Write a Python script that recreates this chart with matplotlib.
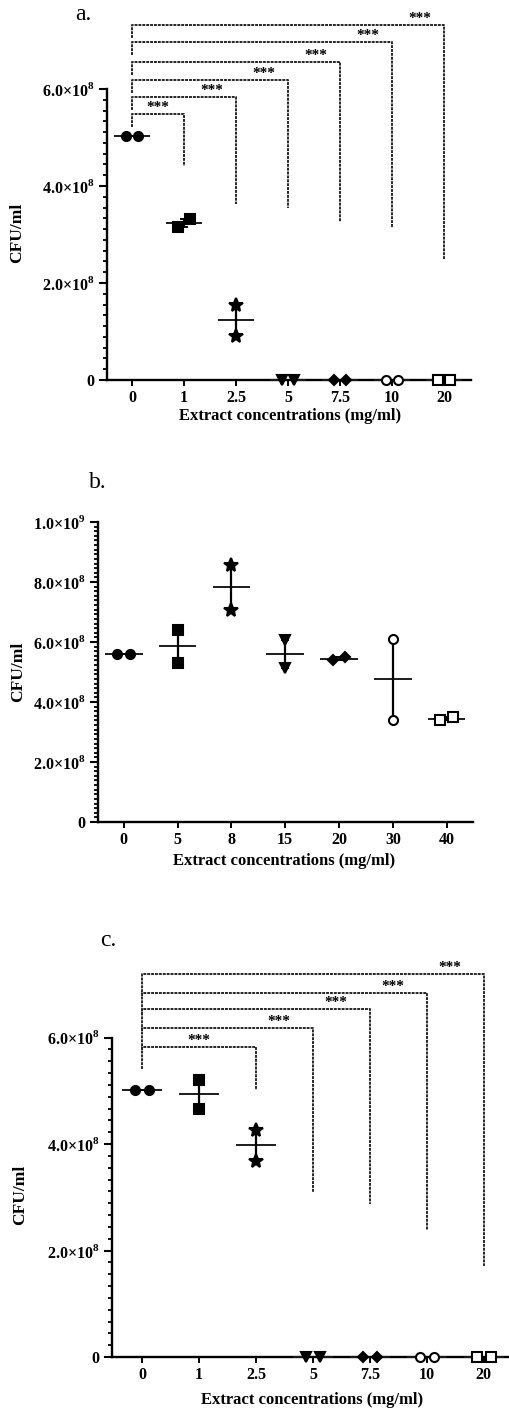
import numpy as np
import matplotlib
matplotlib.use("Agg")
import matplotlib.pyplot as plt
from matplotlib.ticker import FixedLocator, FixedFormatter

plt.rcParams['font.family'] = ['Liberation Serif', 'DejaVu Serif']
plt.rcParams['mathtext.fontset'] = 'custom'
plt.rcParams['mathtext.rm'] = 'Liberation Serif'
plt.rcParams['mathtext.bf'] = 'Liberation Serif:bold'

W, H = 510, 1414

# panel a / c: extract concentrations, two replicate counts per group
conc_ac = ['0', '1', '2.5', '5', '7.5', '10', '20']
cfu_a = [[5.04e8, 5.04e8], [3.15e8, 3.32e8], [1.55e8, 0.91e8],
         [0, 0], [0, 0], [0, 0], [0, 0]]
cfu_c = [[5.02e8, 5.02e8], [5.21e8, 4.66e8], [4.26e8, 3.69e8],
         [0, 0], [0, 0], [0, 0], [0, 0]]

# panel b
conc_b = ['0', '5', '8', '15', '20', '30', '40']
cfu_b = [[5.61e8, 5.61e8], [6.41e8, 5.30e8], [8.56e8, 7.08e8],
         [6.06e8, 5.13e8], [5.39e8, 5.50e8], [6.11e8, 3.41e8],
         [3.39e8, 3.51e8]]

# significance brackets vs control: target group, bar height, right leg end
sig_a_groups = [1, 2, 3, 4, 5, 6]
sig_a_top = [5.48e8, 5.84e8, 6.19e8, 6.56e8, 6.97e8, 7.32e8]
sig_a_end = [4.41e8, 3.63e8, 3.55e8, 3.26e8, 3.13e8, 2.49e8]

sig_c_groups = [2, 3, 4, 5, 6]
sig_c_top = [5.82e8, 6.18e8, 6.54e8, 6.84e8, 7.20e8]
sig_c_end = [5.02e8, 3.10e8, 2.88e8, 2.39e8, 1.71e8]

yticks_ac = [0, 2e8, 4e8, 6e8]
ylabels_ac = ['0', r'2.0×10$^{\mathbf{8}}$', r'4.0×10$^{\mathbf{8}}$', r'6.0×10$^{\mathbf{8}}$']
yticks_b = [0, 2e8, 4e8, 6e8, 8e8, 1e9]
ylabels_b = ['0', r'2.0×10$^{\mathbf{8}}$', r'4.0×10$^{\mathbf{8}}$', r'6.0×10$^{\mathbf{8}}$',
             r'8.0×10$^{\mathbf{8}}$', r'1.0×10$^{\mathbf{9}}$']

# marker style per group: (marker, filled)
styles = [('o', True), ('s', True), ('*', True), ('v', True),
          ('D', True), ('o', False), ('s', False)]


def add_axes_px(fig, left, right, top, bottom):
    return fig.add_axes([left / W, 1 - bottom / H, (right - left) / W, (bottom - top) / H])


def text_px(fig, x, y, s, **kw):
    fig.text(x / W, 1 - y / H, s, ha='center', va='center', **kw)


def draw_groups(ax, data):
    for i, vals in enumerate(data):
        vals = np.array(vals, dtype=float)
        mean = vals.mean()
        sem = vals.std(ddof=1) / np.sqrt(len(vals))
        # spread replicates sideways when they would overlap
        if abs(vals[0] - vals[1]) < 0.3e8:
            xs = [i - 0.12, i + 0.12]
        else:
            xs = [i, i]
        ax.plot([i - 0.33, i + 0.33], [mean, mean], color='0.1', lw=1.4,
                zorder=3, clip_on=False)
        ax.errorbar(i, mean, yerr=sem, color='k', lw=1.6, capsize=3,
                    capthick=1.4, zorder=3, clip_on=False)
        mk, filled = styles[i]
        ms = 10 if mk == '*' else 6.5
        if mk == 'D':
            ms = 5.5
        ax.plot(xs, vals, ls='none', marker=mk, ms=ms,
                mfc='k' if filled else 'white', mec='k', mew=1.5,
                zorder=4, clip_on=False)


def draw_brackets(ax, groups, tops, ends, leg, star_shift):
    for j, top, end in zip(groups, tops, ends):
        ax.plot([0, 0, j, j], [top - leg, top, top, end], color='0.15',
                lw=1.4, ls=(0, (1.5, 0.5)), zorder=2, clip_on=False)
        sx = j / 2 if j == groups[0] else j - star_shift
        ax.annotate('***', (sx, top), xytext=(0, 0), textcoords='offset points',
                    ha='center', va='bottom', fontsize=11, fontweight='bold')


def style_axes(ax, labels, yticks, ylabels, ytop, nminor):
    for s in ['top', 'right']:
        ax.spines[s].set_visible(False)
    for s in ['left', 'bottom']:
        ax.spines[s].set_linewidth(1.7)
    ax.spines['left'].set_bounds(0, ytop)
    ax.set_xticks(range(len(labels)))
    ax.set_xticklabels(labels, fontsize=11.5, fontweight='bold')
    ax.yaxis.set_major_locator(FixedLocator(yticks))
    ax.yaxis.set_major_formatter(FixedFormatter(ylabels))
    step = yticks[1] / nminor
    ax.yaxis.set_minor_locator(FixedLocator(np.arange(0, ytop + step / 2, step)))
    for lab in ax.get_yticklabels():
        lab.set_fontsize(11.5)
        lab.set_fontweight('bold')
    ax.tick_params(axis='x', length=4, width=1.4, pad=3)
    ax.tick_params(axis='y', which='major', length=6, width=1.5, pad=3)
    ax.tick_params(axis='y', which='minor', length=3, width=1.3)
    ax.set_facecolor('none')


fig = plt.figure(figsize=(W / 100, H / 100), dpi=100)

# a.
ax = add_axes_px(fig, 107, 471, 380 - 97 * 3.9, 380)
draw_groups(ax, cfu_a)
draw_brackets(ax, sig_a_groups, sig_a_top, sig_a_end, 0.27e8, 0.47)
ax.set_xlim(-0.48, 6.52)
ax.set_ylim(0, 7.8e8)
style_axes(ax, conc_ac, yticks_ac, ylabels_ac, 6e8, 9)
text_px(fig, 83, 15, 'a.', fontsize=17)
text_px(fig, 17, 233, 'CFU/ml', fontsize=12.5, fontweight='bold', rotation=90)
text_px(fig, 290, 416, 'Extract concentrations (mg/ml)', fontsize=12, fontweight='bold')

# b.
ax = add_axes_px(fig, 98, 473, 522, 822)
draw_groups(ax, cfu_b)
ax.set_xlim(-0.48, 6.49)
ax.set_ylim(0, 1e9)
style_axes(ax, conc_b, yticks_b, ylabels_b, 1e9, 13)
text_px(fig, 98, 482, 'b.', fontsize=17)
text_px(fig, 18, 672, 'CFU/ml', fontsize=12.5, fontweight='bold', rotation=90)
text_px(fig, 284, 861, 'Extract concentrations (mg/ml)', fontsize=12, fontweight='bold')

# c.
ax = add_axes_px(fig, 112, 510, 1357 - 106.5 * 3.9, 1357)
draw_groups(ax, cfu_c)
draw_brackets(ax, sig_c_groups, sig_c_top, sig_c_end, 0.42e8, 0.6)
ax.set_xlim(-0.53, 6.46)
ax.set_ylim(0, 7.8e8)
style_axes(ax, conc_ac, yticks_ac, ylabels_ac, 6e8, 9)
text_px(fig, 108, 940, 'c.', fontsize=17)
text_px(fig, 20, 1195, 'CFU/ml', fontsize=12.5, fontweight='bold', rotation=90)
text_px(fig, 312, 1400, 'Extract concentrations (mg/ml)', fontsize=12, fontweight='bold')

fig.savefig('out.png', dpi=100)
